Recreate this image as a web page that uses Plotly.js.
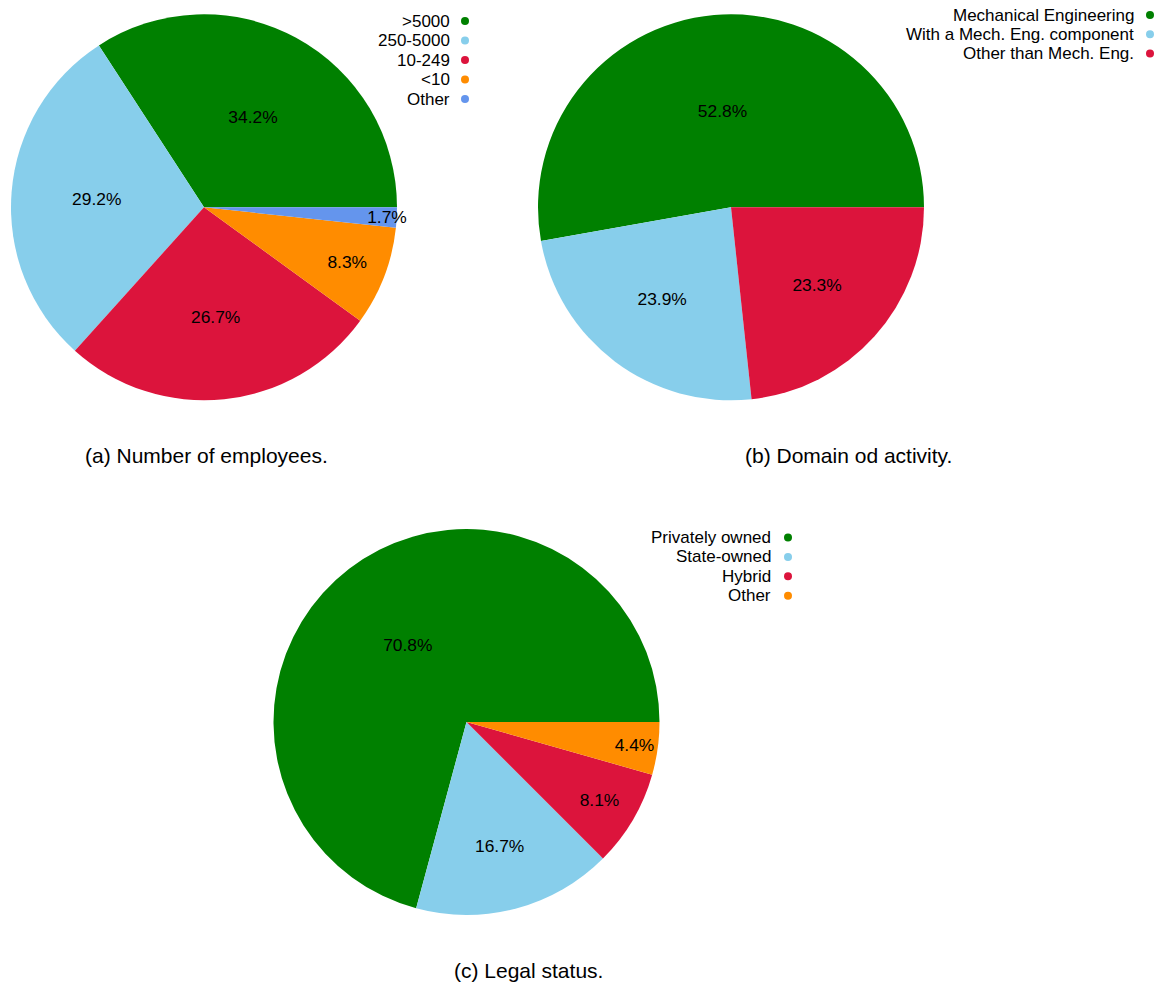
<!DOCTYPE html>
<html><head><meta charset="utf-8">
<script src="https://cdn.plot.ly/plotly-3.0.1.min.js"></script>
<style>html,body{margin:0;padding:0;background:#fff}</style>
</head><body><div id="chart" style="width:1168px;height:983px"></div>
<script>
// ---- data ----
const empLabels = ['>5000', '250-5000', '10-249', '<10', 'Other'];
const empValues = [34.2, 29.2, 26.7, 8.3, 1.7];
const empColors = ['green', 'skyblue', 'crimson', 'darkorange', 'cornflowerblue'];

const domLabels = ['Mechanical Engineering', 'With a Mech. Eng. component', 'Other than Mech. Eng.'];
const domValues = [52.8, 23.9, 23.3];
const domColors = ['green', 'skyblue', 'crimson'];

const legLabels = ['Privately owned', 'State-owned', 'Hybrid', 'Other'];
const legValues = [70.8, 16.7, 8.1, 4.4];
const legColors = ['green', 'skyblue', 'crimson', 'darkorange'];

const captions = ['(a) Number of employees.', '(b) Domain od activity.', '(c) Legal status.'];

// ---- layout helpers ----
const W = 1168, H = 983;
const FONT = '"Liberation Sans", Arial, sans-serif';
const PCT_SIZE = 17.4, LEG_SIZE = 17, CAP_SIZE = 21;
const px = v => v / W;
const py = v => 1 - v / H;
const esc = s => s.replace(/&/g, '&amp;').replace(/</g, '&lt;').replace(/>/g, '&gt;');
const sum = a => a.reduce((s, v) => s + v, 0);

const pies = [
  {labels: empLabels, values: empValues, colors: empColors, box: [11, 14.3, 386],
   leg: {x: 465, y0: 21, gap: 19.5, shift: -14}, cap: {x: 206, y: 455}},
  {labels: domLabels, values: domValues, colors: domColors, box: [538, 14.3, 386],
   leg: {x: 1150, y0: 15, gap: 19.3, shift: -15}, cap: {x: 848, y: 455}},
  {labels: legLabels, values: legValues, colors: legColors, box: [273.5, 529, 386],
   leg: {x: 788, y0: 537.5, gap: 19.4, shift: -16}, cap: {x: 528, y: 970}}
];

const data = [];
const layout = {
  width: W, height: H,
  margin: {l: 0, r: 0, t: 0, b: 0},
  paper_bgcolor: 'white', plot_bgcolor: 'rgba(0,0,0,0)',
  showlegend: false,
  font: {family: FONT, size: LEG_SIZE, color: '#000'},
  uniformtext: {mode: 'show', minsize: PCT_SIZE},
  annotations: [], shapes: []
};

pies.forEach((p, k) => {
  const [bx, by, bs] = p.box;
  const first = 360 * p.values[0] / sum(p.values);
  data.push({
    type: 'pie', labels: p.labels, values: p.values,
    marker: {colors: p.colors, line: {width: 0}},
    sort: false, direction: 'counterclockwise', rotation: 90 - first,
    texttemplate: '%{percent:.1%}', textposition: 'inside',
    insidetextorientation: 'horizontal',
    insidetextfont: {family: FONT, size: PCT_SIZE, color: 'black'},
    domain: {x: [px(bx), px(bx + bs)], y: [py(by + bs), py(by)]},
    showlegend: false, hoverinfo: 'label+percent'
  });

  // legend: markers on a hidden category axis, text right-aligned to the left of them
  const n = p.labels.length;
  const ax = k === 0 ? '' : String(k + 1);
  const L = p.leg;
  const top = L.y0 - L.gap / 2, bot = L.y0 + L.gap * (n - 0.5);
  layout['xaxis' + ax] = {domain: [px(L.x - 10), px(L.x + 10)], range: [-1, 1], visible: false, fixedrange: true, anchor: 'y' + ax};
  layout['yaxis' + ax] = {domain: [py(bot), py(top)], range: [n - 0.5, -0.5], visible: false, fixedrange: true, anchor: 'x' + ax};
  data.push({
    type: 'scatter', mode: 'markers', xaxis: 'x' + ax, yaxis: 'y' + ax,
    x: p.labels.map(() => 0), y: p.labels.map((_, i) => i),
    marker: {color: p.colors, size: 8}, cliponaxis: false,
    hoverinfo: 'skip', showlegend: false
  });
  p.labels.forEach((lab, i) => {
    layout.annotations.push({
      xref: 'x' + ax, yref: 'y' + ax, x: 0, y: i, xshift: L.shift,
      xanchor: 'right', yanchor: 'middle', showarrow: false, borderpad: 0,
      text: esc(lab), font: {family: FONT, size: LEG_SIZE, color: '#000'}
    });
  });
  layout.annotations.push({
    xref: 'paper', yref: 'paper', x: px(p.cap.x), y: py(p.cap.y),
    xanchor: 'center', yanchor: 'middle', showarrow: false,
    text: esc(captions[k]), font: {family: FONT, size: CAP_SIZE, color: '#000'}
  });
});

Plotly.newPlot('chart', data, layout, {displayModeBar: false, staticPlot: true});
</script>
</body></html>
